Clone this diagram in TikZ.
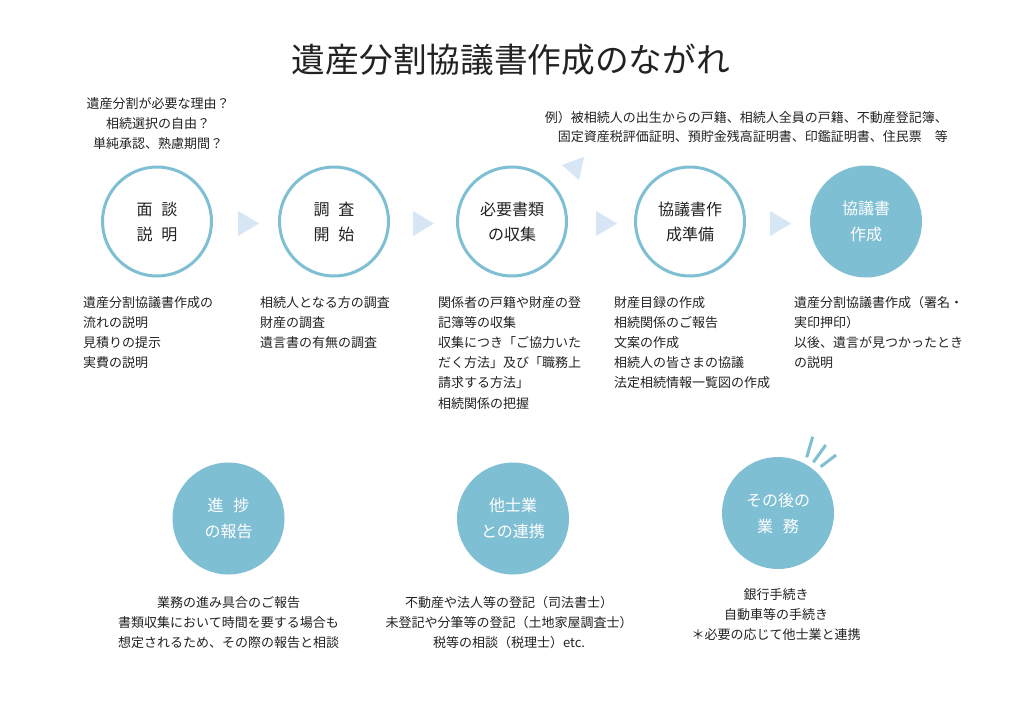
\documentclass[tikz,border=0pt]{standalone}
\usepackage{fontspec}
\setmainfont{Noto Sans CJK JP}
\definecolor{cblue}{RGB}{127,191,212}
\definecolor{trib}{RGB}{214,230,244}
\definecolor{txt}{RGB}{34,34,34}
\begin{document}
\begin{tikzpicture}[x=1pt,y=-1pt,
  ring/.style={circle, draw=cblue, line width=3pt, minimum size=109pt, inner sep=0pt, align=center, text=txt, font=\fontsize{16}{25}\selectfont},
  disc/.style={circle, fill=cblue, minimum size=112pt, inner sep=0pt, align=center, text=white, font=\fontsize{16}{26}\selectfont},
  tri/.style={fill=trib},
  body/.style={align=left, inner sep=0pt, text=txt, font=\fontsize{13}{20.2}\selectfont},
  cbody/.style={align=center, inner sep=0pt, text=txt, font=\fontsize{13}{20}\selectfont},
  ray/.style={draw=cblue, line width=3pt}
]
\useasboundingbox[fill=white] (0,0) rectangle (1024,724);

\node[inner sep=0pt, text=txt, font=\fontsize{33.7}{36}\selectfont] (title) at (511,60) {遺産分割協議書作成のながれ};

\node[cbody, anchor=north, font=\fontsize{13}{20}\selectfont] (n1) at (158,97) {遺産分割が必要な理由？\\相続選択の自由？\\単純承認、熟慮期間？};
\node[body, align=right, anchor=north east, font=\fontsize{13}{19.5}\selectfont] (n2) at (948,111) {例）被相続人の出生からの戸籍、相続人全員の戸籍、不動産登記簿、\\固定資産税評価証明、預貯金残高証明書、印鑑証明書、住民票　等};

\node[ring] (c1) at (157,221.5) {面\hspace{0.55em}談\\説\hspace{0.55em}明};
\node[ring] (c2) at (334,221.5) {調\hspace{0.55em}査\\開\hspace{0.55em}始};
\node[ring] (c3) at (512,221.5) {必要書類\\の収集};
\node[ring] (c4) at (690,221.5) {協議書作\\成準備};
\node[disc] (c5) at (866,221.5) {協議書\\作成};

\fill[tri] (238,211) -- (259,223.5) -- (238,236) -- cycle;
\fill[tri] (413,211) -- (434,223.5) -- (413,236) -- cycle;
\fill[tri] (596,211) -- (617,223.5) -- (596,236) -- cycle;
\fill[tri] (770,211) -- (791,223.5) -- (770,236) -- cycle;
\fill[tri] (562,165) -- (584,157) -- (579,180) -- cycle;

\node[body, anchor=north west] (t1) at (83,296) {遺産分割協議書作成の\\流れの説明\\見積りの提示\\実費の説明};
\node[body, anchor=north west] (t2) at (260,296) {相続人となる方の調査\\財産の調査\\遺言書の有無の調査};
\node[body, anchor=north west] (t3) at (438,296) {関係者の戸籍や財産の登\\記簿等の収集\\収集につき「ご協力いた\\だく方法」及び「職務上\\請求する方法」\\相続関係の把握};
\node[body, anchor=north west] (t4) at (614,296) {財産目録の作成\\相続関係のご報告\\文案の作成\\相続人の皆さまの協議\\法定相続情報一覧図の作成};
\node[body, anchor=north west] (t5) at (794,296) {遺産分割協議書作成（署名・\\実印押印）\\以後、遺言が見つかったとき\\の説明};

\node[disc] (d1) at (228.5,518.5) {進\hspace{0.6em}捗\\の報告};
\node[disc] (d2) at (513,518.5) {他士業\\との連携};
\node[disc] (d3) at (778,513) {その後の\\業\hspace{0.6em}務};

\draw[ray] (806.7,457.3) -- (812.7,436.7);
\draw[ray] (813.3,462.3) -- (825.7,445);
\draw[ray] (820.7,466.7) -- (836,455);

\node[cbody, anchor=north] (b1) at (228.5,596) {業務の進み具合のご報告\\書類収集において時間を要する場合も\\想定されるため、その際の報告と相談};
\node[cbody, anchor=north] (b2) at (509,596) {不動産や法人等の登記（司法書士）\\未登記や分筆等の登記（土地家屋調査士）\\税等の相談（税理士）etc.};
\node[cbody, anchor=north] (b3) at (776,588) {銀行手続き\\自動車等の手続き\\＊必要の応じて他士業と連携};
\end{tikzpicture}
\end{document}
